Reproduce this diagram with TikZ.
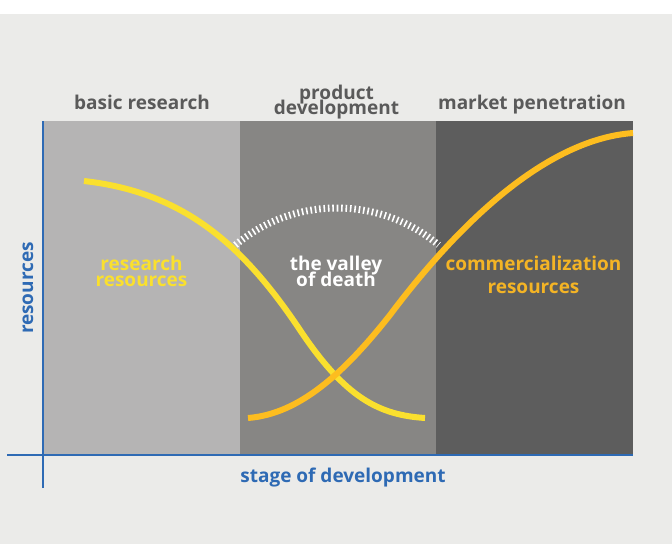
\documentclass[tikz,border=0pt]{standalone}
\usepackage{fontspec}
\setmainfont{Open Sans}
\usetikzlibrary{calc}
\definecolor{backgray}{HTML}{EBEBE9}
\definecolor{stageA}{HTML}{B5B4B4}
\definecolor{stageB}{HTML}{878684}
\definecolor{stageC}{HTML}{5D5D5D}
\definecolor{headgray}{HTML}{5A5A5A}
\definecolor{axisblue}{HTML}{2E6AB4}
\definecolor{resyellow}{HTML}{FAE02E}
\definecolor{comorange}{HTML}{FDBD1F}
\definecolor{comtext}{HTML}{F4B425}
\newcommand{\tightlines}{\lineskiplimit=-20pt\relax}

\begin{document}
\begin{tikzpicture}[x=1pt, y=1pt,
  head/.style={text=headgray, font=\bfseries\fontsize{19}{15}\selectfont\tightlines, align=center, inner sep=0pt},
  axistext/.style={text=axisblue, font=\bfseries\fontsize{19}{16}\selectfont, inner sep=0pt},
  inside/.style={font=\bfseries\fontsize{19}{16}\selectfont\tightlines, align=center, inner sep=0pt},
  curve/.style={line width=6pt}]
\fill[backgray] (0,0) rectangle (672,530);
\fill[white] (0,530) rectangle (672,544);
\fill[stageA] (43,89) rectangle (240,423);
\fill[stageB] (240,89) rectangle (436,423);
\fill[stageC] (436,89) rectangle (633,423);
\coordinate (ytop) at (43,423);
\coordinate (ybot) at (43,56);
\coordinate (xleft) at (7,89);
\coordinate (xright) at (633,89);
\draw[axisblue, line width=2pt] (ybot) -- (ytop);
\draw[axisblue, line width=2pt] (xleft) -- (xright);
\node[head, anchor=base] at (142, 434.5) (basic) {basic research};
\node[head] at (336.5, 441.5) (product) {product\\development};
\node[head, anchor=base] at (532, 434.5) (market) {market penetration};
\node[axistext, anchor=base] at (343, 61.5) (stage) {stage of development};
\node[axistext, rotate=90] at (28, 256) (res) {resources};
\draw[white, line width=7pt, dash pattern=on 1.6pt off 2.8pt] (337,178) ++(130:158) arc (130:50:158);
\node[inside, text=resyellow] at (141.5, 273) (research) {research\\resources};
\node[inside, text=white] at (336, 273) (valley) {the valley\\of death};
\node[inside, text=comtext, font=\bfseries\fontsize{19}{22.4}\selectfont\tightlines] at (533.5, 269) (commerce) {commercialization\\resources};
\draw[curve, resyellow] (84,363) .. controls (180,352) and (240,304) .. (300,214) .. controls (346,145) and (380,129) .. (425,126);
\draw[curve, comorange] (248,126) .. controls (300,130) and (345,172) .. (390,229) .. controls (450,309) and (540,404) .. (633,411);
\end{tikzpicture}
\end{document}
